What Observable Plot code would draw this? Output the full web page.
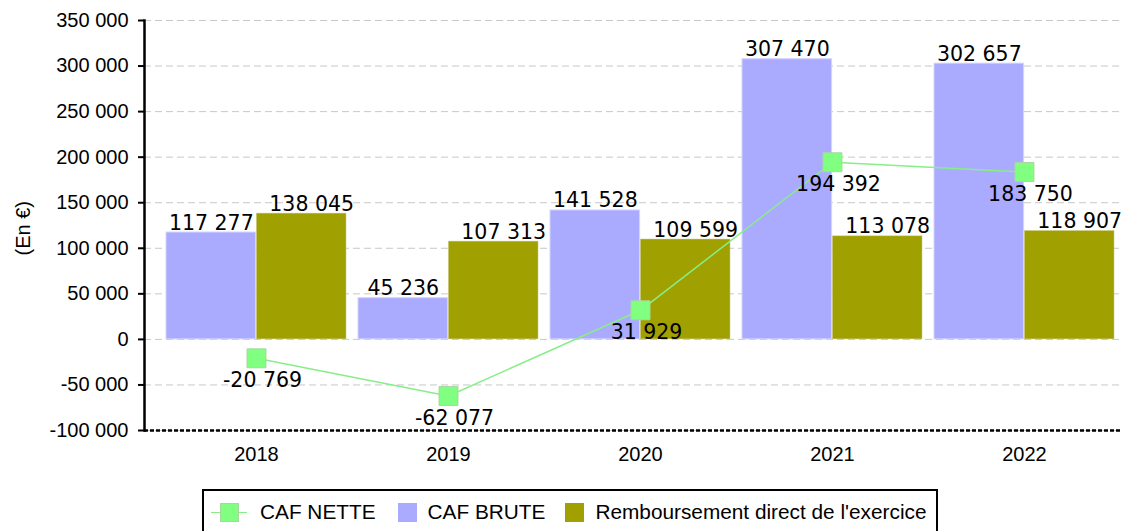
<!DOCTYPE html>
<html>
<head>
<meta charset="utf-8">
<script src="https://cdn.jsdelivr.net/npm/d3@7"></script>
<script src="https://cdn.jsdelivr.net/npm/@observablehq/plot@0.6"></script>
<style>
  html, body { margin: 0; padding: 0; background: #fff; }
  #chart svg { display: block; }
  .legend {
    display: inline-flex; align-items: center; box-sizing: border-box;
    margin: 2px 0 0 202px; height: 46px; border: 2px solid #000;
    padding: 0 9px 0 7px;
    font-family: "Liberation Sans", Arial, sans-serif; font-size: 20.8px; color: #000;
  }
  .legend .item { display: inline-flex; align-items: center; }
  .legend .sw { width: 19px; height: 19px; box-sizing: border-box; margin-right: 11px; }
  .legend .lsw { position: relative; width: 36px; height: 19px; margin-right: 13px; }
  .legend .lsw .ln { position: absolute; left: 0; right: 0; top: 9px; height: 1.5px; background: #88ee88; }
  .legend .lsw .sq { position: absolute; left: 8.5px; top: 0; width: 19px; height: 19px; background: #80ff80; box-sizing: border-box; border: 1px solid #a8d8a0; }
</style>
</head>
<body>
<div id="chart"></div>
<script>
// ---- data ----
const years = ["2018", "2019", "2020", "2021", "2022"];
const cafNette = [-20769, -62077, 31929, 194392, 183750];
const cafBrute = [117277, 45236, 141528, 307470, 302657];
const remboursement = [138045, 107313, 109599, 113078, 118907];
const yTicks = [-100000, -50000, 0, 50000, 100000, 150000, 200000, 250000, 300000, 350000];
const seriesNames = ["CAF NETTE", "CAF BRUTE", "Remboursement direct de l'exercice"];
const yLabel = "(En €)";

// ---- styles ----
const colNette = "#80ff80", colNetteLine = "#88ee88", colBrute = "#aaaaff", colRemb = "#a0a000";
const xRange = [158, 1122];
const pIn = 12 / 193, pOut = 6 / 193;
const step = (xRange[1] - xRange[0]) / (years.length - pIn + 2 * pOut);
const bw = step * (1 - pIn);

const rows = years.map((year, i) => ({year, nette: cafNette[i], brute: cafBrute[i], remb: remboursement[i]}));
const fmt = n => d3.format(",")(n).replace(/,/g, " ").replace("\u2212", "-");
const labelFont = "DejaVu Sans";
const labelSize = 20.5;

const chart = Plot.plot({
  width: 1124,
  height: 487,
  marginLeft: 144,
  marginRight: 2,
  marginTop: 20,
  marginBottom: 57,
  style: {fontFamily: "'Liberation Sans', Arial, sans-serif", background: "#fff", overflow: "visible"},
  x: {type: "band", domain: years, range: xRange, paddingInner: pIn, paddingOuter: pOut},
  y: {domain: [-100000, 350000]},
  marks: [
    Plot.gridY(yTicks, {stroke: "#c8c8c8", strokeOpacity: 1, strokeDasharray: "7,4", strokeWidth: 1}),
    Plot.barY(rows, {x: "year", y: "brute", fill: colBrute, stroke: "#d4d4ff", strokeWidth: 1, insetRight: bw / 2}),
    Plot.barY(rows, {x: "year", y: "remb", fill: colRemb, stroke: "#c8c880", strokeWidth: 0.5, insetLeft: bw / 2}),
    Plot.ruleY([yTicks[0]], {stroke: "#000", strokeWidth: 2.5, strokeDasharray: "4,2"}),
    Plot.line(rows, {x: "year", y: "nette", stroke: colNetteLine, strokeWidth: 1.5}),
    Plot.dot(rows, {x: "year", y: "nette", symbol: "square", r: 10.7, fill: colNette, stroke: "#a8d8a0", strokeWidth: 1}),
    Plot.text(rows, {x: "year", y: "brute", text: d => fmt(d.brute), dx: -bw / 4, lineAnchor: "bottom", dy: -3, fontFamily: labelFont, fontSize: labelSize, fill: "#000"}),
    Plot.text(rows, {x: "year", y: "remb", text: d => fmt(d.remb), dx: bw / 4 + 10, lineAnchor: "bottom", dy: -3, fontFamily: labelFont, fontSize: labelSize, fill: "#000"}),
    Plot.text(rows, {x: "year", y: "nette", text: d => fmt(d.nette), dx: 6, lineAnchor: "bottom", dy: 29, fontFamily: labelFont, fontSize: labelSize, fill: "#000"}),
    Plot.axisY({ticks: yTicks, tickFormat: fmt, tickSize: 6, tickPadding: 10, fontSize: 20, fill: "#000", stroke: "#000", strokeWidth: 2, label: null}),
    Plot.axisX({tickSize: 0, tickPadding: 16, fontSize: 20, fill: "#000", label: null}),
    Plot.frame({anchor: "left", stroke: "#000", strokeWidth: 2.5}),
    Plot.text([yLabel], {frameAnchor: "left", text: d => d, rotate: -90, dx: -121, dy: 30, fontSize: 20, fill: "#000"})
  ]
});
document.getElementById("chart").appendChild(chart);

// ---- legend ----
const legend = document.createElement("div");
legend.className = "legend";
legend.innerHTML = `
  <span class="item"><span class="lsw"><span class="ln"></span><span class="sq"></span></span><span>${seriesNames[0]}</span></span>
  <span class="item" style="margin-left:22px"><span class="sw" style="background:${colBrute}"></span><span>${seriesNames[1]}</span></span>
  <span class="item" style="margin-left:20px"><span class="sw" style="background:${colRemb}"></span><span>${seriesNames[2]}</span></span>`;
document.body.appendChild(legend);
</script>
</body>
</html>
